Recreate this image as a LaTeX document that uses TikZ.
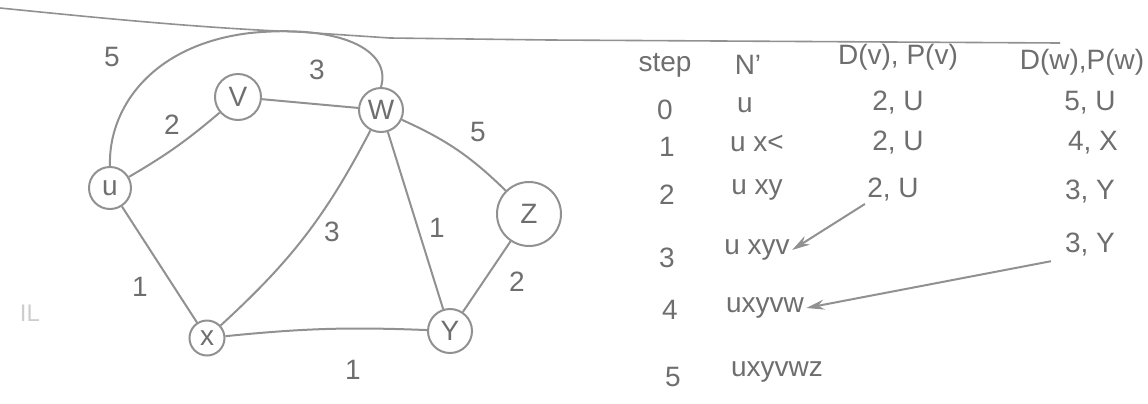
\documentclass[tikz,border=0pt]{standalone}
\usepackage{fontspec}
\setmainfont{Liberation Sans}
\usetikzlibrary{arrows.meta}
\definecolor{pencil}{RGB}{145,145,145}
\definecolor{lead}{RGB}{110,110,110}
\definecolor{faint}{RGB}{205,205,205}
\tikzset{
  vtx/.style={draw=pencil, circle, line width=1pt, inner sep=0pt, text=lead,
              font=\fontsize{14}{14}\selectfont},
  edge/.style={draw=pencil, line width=1pt},
  wt/.style={text=lead, font=\fontsize{14}{14}\selectfont},
  cell/.style={text=lead, inner sep=1pt, font=\fontsize{14}{16}\selectfont},
  arr/.style={-{Stealth[length=9pt, width=5pt]}, draw=pencil, line width=1pt}
}

\begin{document}
\begin{tikzpicture}[x=0.5pt, y=-0.5pt]
  \useasboundingbox (0,0) rectangle (1148,403);
  % scan line across the top
  \draw[pencil, line width=0.8pt] (0,8) .. controls (100,18) and (200,28) .. (300,32)
    -- (390,38) -- (550,40) -- (1060,43);

  % graph
  \node[vtx, minimum size=21pt] (u) at (110,188) {u};
  \node[vtx, minimum size=23pt] (v) at (238,97) {V};
  \node[vtx, minimum size=22pt] (w) at (381,110) {W};
  \node[vtx, minimum size=32pt] (z) at (529,214) {Z};
  \node[vtx, minimum size=17.5pt] (x) at (207,338) {x};
  \node[vtx, minimum size=22pt] (y) at (450,331) {Y};

  \draw[edge] (u) to[bend right=5] (v);
  \draw[edge] (v) -- (w);
  \draw[edge] (u.north) .. controls (108,110) and (150,45) .. (250,33)
    .. controls (340,24) and (392,50) .. (w.north);
  \draw[edge] (u) -- (x);
  \draw[edge] (x) to[bend right=10] (w);
  \draw[edge] (w) -- (y);
  \draw[edge] (w) to[bend left=10] (z);
  \draw[edge] (x) to[bend left=4] (y);
  \draw[edge] (y) -- (z);

  \node[wt] (luw) at (112,57) {5};
  \node[wt] (luv) at (172,125) {2};
  \node[wt] (lvw) at (317,70) {3};
  \node[wt] (lwz) at (478,132) {5};
  \node[wt] (lux) at (140,287) {1};
  \node[wt] (lxw) at (332,232) {3};
  \node[wt] (lwy) at (437,228) {1};
  \node[wt] (lyz) at (517,282) {2};
  \node[wt] (lxy) at (353,370) {1};
  \node[text=faint, font=\fontsize{12}{12}\selectfont] (mark) at (30,313) {IL};

  % table
  \node[cell] (hstep) at (665,65) {step};
  \node[cell] (hn) at (748,65) {N'};
  \node[cell] (hdv) at (898,57) {D(v), P(v)};
  \node[cell] (hdw) at (1082,62) {D(w),P(w)};

  \node[cell] (r0s) at (665,110) {0};
  \node[cell] (r0n) at (745,105) {u};
  \node[cell] (r0dv) at (898,103) {2, U};
  \node[cell] (r0dw) at (1090,103) {5, U};

  \node[cell] (r1s) at (667,147) {1};
  \node[cell] (r1n) at (757,143) {u x<};
  \node[cell] (r1dv) at (898,143) {2, U};
  \node[cell] (r1dw) at (1093,143) {4, X};

  \node[cell] (r2s) at (667,195) {2};
  \node[cell] (r2n) at (757,190) {u xy};
  \node[cell] (r2dv) at (893,190) {2, U};
  \node[cell] (r2dw) at (1090,192) {3, Y};

  \node[cell] (r3s) at (667,258) {3};
  \node[cell] (r3n) at (757,250) {u xyv};
  \node[cell] (r3dw) at (1090,245) {3, Y};

  \node[cell] (r4s) at (670,310) {4};
  \node[cell] (r4n) at (765,308) {uxyvw};

  \node[cell] (r5s) at (673,377) {5};
  \node[cell] (r5n) at (777,372) {uxyvwz};

  \draw[arr] (r2dv.south west) -- (r3n.east);
  \draw[arr, shorten <=6pt] (r3dw.south west) -- (r4n.east);
\end{tikzpicture}
\end{document}
